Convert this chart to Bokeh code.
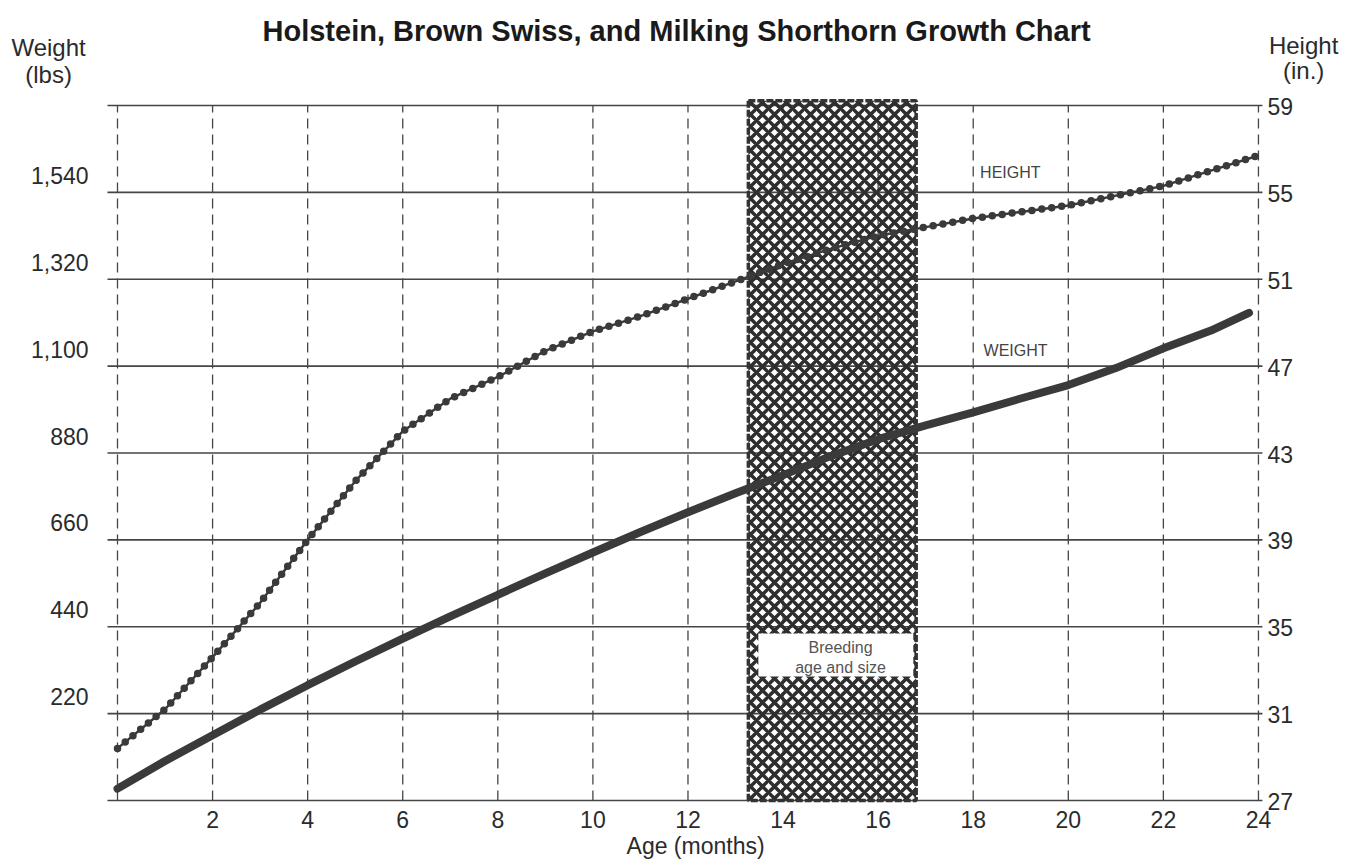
from bokeh.plotting import figure
from bokeh.models import Range1d
from bokeh.core.properties import value
from bokeh.embed import file_html
from bokeh.resources import INLINE

# ---- data ----
age_ticks = [2, 4, 6, 8, 10, 12, 14, 16, 18, 20, 22, 24]
age_grid = [0, 2, 4, 6, 8, 10, 12, 14, 16, 18, 20, 22, 24]
weight_grid = [0, 220, 440, 660, 880, 1100, 1320, 1540, 1760]
weight_ticks = [220, 440, 660, 880, 1100, 1320, 1540]
height_ticks = [27, 31, 35, 39, 43, 47, 51, 55, 59]

height_age = [0, 1, 2, 3, 4, 5, 6, 7, 8, 9, 10, 11, 12, 13, 14, 15, 16, 17, 18, 19, 20, 21, 22, 23, 24]
height_in = [29.4, 31.2, 33.6, 36.1, 39.0, 41.7, 44.0, 45.5, 46.5, 47.7, 48.6, 49.3, 50.1, 50.9,
             51.7, 52.4, 53.0, 53.4, 53.8, 54.1, 54.4, 54.85, 55.3, 56.0, 56.7]

weight_age = [0, 1, 2, 3, 4, 5, 6, 7, 8, 9, 10, 11, 12, 13, 14, 15, 16, 17, 18, 19, 20, 21, 22, 23, 23.8]
weight_lbs = [30, 100, 165, 230, 292, 352, 410, 466, 521, 575, 628, 680, 730, 778, 824, 872, 915,
              950, 983, 1018, 1052, 1095, 1145, 1190, 1235]

breeding_start = [13.27]
breeding_end = [16.8]

INK = "#2b2b2b"
FONT = "Liberation Sans"

# scale: age 0 at px 117, 47.54 px / month; weight 0 at px 800, 695 px per 1760 lb
PX_MONTH = 47.54
PX_LB = 695 / 1760
x0 = -117 / PX_MONTH
x1 = (1354 - 117) / PX_MONTH
y0 = (800 - 861) / PX_LB
y1 = 800 / PX_LB

p = figure(width=1354, height=861,
           x_range=Range1d(x0, x1), y_range=Range1d(y0, y1),
           output_backend="svg", toolbar_location=None,
           x_axis_location=None, y_axis_location=None,
           min_border=0)
p.outline_line_color = None
p.xgrid.visible = False
p.ygrid.visible = False
p.background_fill_color = "white"
p.extra_y_ranges = {"height": Range1d(27 + y0 / 55, 27 + y1 / 55)}

x_left_edge = -10 / PX_MONTH
x_right_edge = 24 + 4 / PX_MONTH

# grid
p.segment(x0=[x_left_edge] * len(weight_grid), x1=[x_right_edge] * len(weight_grid),
          y0=weight_grid, y1=weight_grid, line_color="#454545", line_width=1.6)
p.segment(x0=age_grid, x1=age_grid, y0=[0] * len(age_grid), y1=[1760] * len(age_grid),
          line_color="#454545", line_width=1.3, line_dash="10 6")

# tick labels
p.text(x=[x_left_edge - 19 / PX_MONTH] * len(weight_ticks), y=weight_ticks,
       text=[f"{w:,}" for w in weight_ticks], y_offset=-17,
       text_align="right", text_baseline="middle", text_font=value(FONT),
       text_font_size=value("23px"), text_color=INK)
p.text(x=[x_right_edge + 5 / PX_MONTH] * len(height_ticks), y=height_ticks, y_range_name="height",
       text=[str(h) for h in height_ticks], y_offset=1,
       text_align="left", text_baseline="alphabetic", text_font=value(FONT),
       text_font_size=value("23px"), text_color=INK)
p.text(x=age_ticks, y=[0] * len(age_ticks), text=[str(a) for a in age_ticks], y_offset=19,
       text_align="center", text_baseline="middle", text_font=value(FONT),
       text_font_size=value("23px"), text_color=INK)

# breeding window
p.quad(left=breeding_start, right=breeding_end, bottom=[0], top=[1772],
       fill_color=None, hatch_pattern="diagonal_cross", hatch_color="#2e2e2e",
       hatch_scale=12, hatch_weight=3.5, line_color="#333333", line_width=3.5, line_dash="7 2")
p.quad(left=[13.48], right=[16.74], bottom=[314], top=[423], fill_color="white", line_color=None)
p.text(x=[15.21, 15.21], y=[387, 337], text=["Breeding", "age and size"],
       text_align="center", text_baseline="middle", text_font=value(FONT),
       text_font_size=value("16px"), text_color="#555555")

# curves
p.line(weight_age, weight_lbs, line_width=8, line_color="#3a3a3a", line_cap="round")
p.line(height_age, height_in, y_range_name="height", line_width=2.5, line_color="#3a3a3a")
p.line(height_age, height_in, y_range_name="height", line_width=7.5, line_color="#3a3a3a",
       line_dash="0 10", line_cap="round")

p.text(x=[18.78, 18.89], y=[1590, 1140], text=["HEIGHT", "WEIGHT"],
       text_align="center", text_baseline="middle", text_font=value(FONT),
       text_font_size=value("16px"), text_color="#444444")

# titles and axis names
p.text(x=[11.76], y=[1760], y_offset=-75,
       text=["Holstein, Brown Swiss, and Milking Shorthorn Growth Chart"],
       text_align="center", text_baseline="middle", text_font=value(FONT),
       text_font_size=value("29px"), text_font_style="bold", text_color="#1a1a1a")
p.text(x=[-1.45, -1.45], y=[1760, 1760], y_offset=[-58, -31], text=["Weight", "(lbs)"],
       text_align="center", text_baseline="middle", text_font=value(FONT),
       text_font_size=value("24px"), text_color=INK)
p.text(x=[24.95, 24.95], y=[1760, 1760], y_offset=[-60, -35], text=["Height", "(in.)"],
       text_align="center", text_baseline="middle", text_font=value(FONT),
       text_font_size=value("24px"), text_color=INK)
p.text(x=[12.16], y=[0], y_offset=45, text=["Age (months)"],
       text_align="center", text_baseline="middle", text_font=value(FONT),
       text_font_size=value("23px"), text_color=INK)

open("out.html", "w").write(file_html(p, INLINE))
